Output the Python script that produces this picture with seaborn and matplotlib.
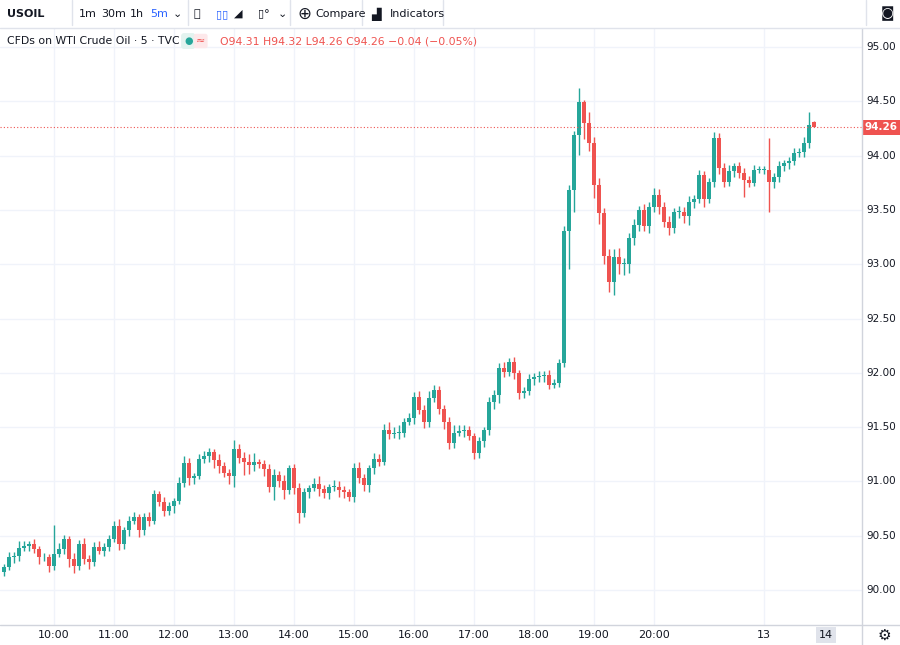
import numpy as np
import pandas as pd
import matplotlib.pyplot as plt
import seaborn as sns

# ---- data (5-min candles) ----
first_open = 90.17
closes = [
    90.21, 90.30, 90.31, 90.39, 90.41, 90.42, 90.38, 90.30, 90.30, 90.22, 90.33, 90.38,
    90.47, 90.29, 90.22, 90.42, 90.29, 90.26, 90.40, 90.36, 90.40, 90.47, 90.59, 90.42,
    90.55, 90.64, 90.67, 90.55, 90.67, 90.64, 90.88, 90.81, 90.73, 90.77, 90.82, 90.99,
    91.17, 91.03, 91.05, 91.21, 91.23, 91.27, 91.20, 91.14, 91.08, 91.05, 91.30, 91.22,
    91.18, 91.15, 91.18, 91.16, 91.11, 90.95, 91.06, 91.00, 90.92, 91.12, 90.94, 90.71,
    90.90, 90.94, 90.98, 90.93, 90.89, 90.95, 90.95, 90.92, 90.90, 90.86, 91.12, 91.03,
    90.97, 91.12, 91.21, 91.18, 91.47, 91.44, 91.45, 91.45, 91.55, 91.58, 91.78, 91.66,
    91.55, 91.77, 91.84, 91.67, 91.55, 91.35, 91.45, 91.46, 91.47, 91.42, 91.26, 91.37,
    91.47, 91.73, 91.80, 92.04, 92.01, 92.10, 92.00, 91.81, 91.83, 91.94, 91.96, 91.97,
    91.98, 91.89, 91.91, 92.09, 93.31, 93.68, 94.19, 94.49, 94.30, 94.12, 93.73, 93.47,
    93.08, 92.84, 93.07, 93.00, 93.00, 93.24, 93.36, 93.50, 93.35, 93.53, 93.64, 93.53,
    93.39, 93.33, 93.48, 93.48, 93.44, 93.57, 93.60, 93.82, 93.60, 93.76, 94.16, 93.89,
    93.76, 93.86, 93.90, 93.84, 93.78, 93.75, 93.87, 93.87, 93.87, 93.76, 93.80, 93.90,
    93.93, 93.95, 94.02, 94.03, 94.12, 94.28, 94.26,
]
last_open = 94.31
up_wick = [
    .03, .05, .04, .06, .04, .03, .05, .03, .04, .03, .27, .05,
    .04, .03, .05, .04, .06, .03, .04, .05, .03, .04, .05, .06,
    .03, .04, .05, .03, .04, .05, .04, .03, .05, .04, .03, .05,
    .06, .05, .03, .04, .05, .04, .03, .05, .04, .03, .08, .04,
    .05, .07, .08, .03, .04, .05, .05, .04, .06, .03, .04, .05,
    .04, .03, .05, .07, .04, .03, .06, .05, .04, .03, .05, .06,
    .04, .03, .05, .04, .06, .08, .05, .07, .03, .05, .04, .05,
    .04, .06, .05, .04, .03, .04, .07, .06, .05, .04, .03, .04,
    .03, .05, .04, .05, .06, .04, .05, .03, .04, .05, .04, .05,
    .04, .05, .03, .04, .04, .05, .04, .13, .02, .10, .05, .06,
    .05, .06, .07, .08, .06, .05, .06, .04, .05, .04, .06, .05,
    .04, .05, .04, .06, .05, .06, .04, .05, .04, .03, .06, .05,
    .04, .05, .03, .04, .05, .03, .04, .03, .03, .29, .04, .05,
    .03, .04, .05, .04, .05, .12, .01,
]
dn_wick = [
    .04, .03, .05, .04, .03, .05, .04, .06, .03, .05, .04, .03,
    .05, .08, .06, .04, .05, .07, .04, .03, .05, .04, .03, .05,
    .04, .05, .03, .06, .04, .05, .03, .04, .05, .04, .06, .03,
    .04, .06, .05, .03, .04, .05, .08, .06, .04, .07, .10, .05,
    .12, .08, .05, .04, .06, .05, .12, .05, .08, .04, .06, .09,
    .04, .05, .03, .06, .04, .05, .04, .06, .05, .04, .05, .04,
    .06, .07, .05, .04, .03, .05, .04, .06, .04, .03, .05, .04,
    .06, .05, .04, .05, .07, .05, .04, .03, .05, .04, .05, .04,
    .05, .04, .06, .08, .05, .04, .06, .05, .04, .03, .05, .04,
    .05, .04, .03, .04, .04, .35, .20, .18, .15, .08, .12, .10,
    .08, .10, .12, .09, .10, .08, .06, .05, .04, .06, .05, .07,
    .05, .06, .04, .05, .06, .08, .05, .04, .07, .04, .05, .06,
    .05, .04, .06, .05, .16, .04, .03, .03, .04, .28, .06, .04,
    .04, .05, .04, .03, .04, .05, .00,
]
time_ticks = [10, 22, 34, 46, 58, 70, 82, 94, 106, 118, 130, 152]
time_labels = ["10:00", "11:00", "12:00", "13:00", "14:00", "15:00", "16:00",
               "17:00", "18:00", "19:00", "20:00", "13"]
price_ticks = [90.0, 90.5, 91.0, 91.5, 92.0, 92.5, 93.0, 93.5, 94.0, 94.5, 95.0]

GREEN = "#26a69a"
RED = "#ef5350"
TXT = "#131722"

df = pd.DataFrame({"close": closes, "up": up_wick, "dn": dn_wick})
df["open"] = [first_open] + closes[:-1]
df.loc[df.index[-1], "open"] = last_open
df["top"] = df[["open", "close"]].max(axis=1)
df["bot"] = df[["open", "close"]].min(axis=1)
df["high"] = df["top"] + df["up"]
df["low"] = df["bot"] - df["dn"]
df["color"] = np.where(df["close"] >= df["open"], GREEN, RED)
df["i"] = np.arange(len(df))

sns.set_theme(style="white", font="DejaVu Sans")
fig = plt.figure(figsize=(9, 6.45), dpi=100)
ax = fig.add_axes([0, 20 / 645, 862 / 900, 597 / 645])

ax.vlines(df["i"], df["low"], df["high"], colors=df["color"], linewidth=1)
ax.bar(df["i"], np.maximum(df["top"] - df["bot"], 0.008), bottom=df["bot"],
       width=0.7, color=df["color"], linewidth=0)

last = closes[-1]
ax.axhline(last, color=RED, linestyle=(0, (1, 2)), linewidth=0.8)

ax.set_xlim(-0.8, 171.6)
ax.set_ylim(89.678, 95.175)
ax.set_xticks(time_ticks)
ax.set_yticks(price_ticks)
ax.grid(True, color="#f0f3fa", linewidth=1)
ax.set_axisbelow(True)
ax.tick_params(length=0, labelbottom=False, labelleft=False)
for s in ax.spines.values():
    s.set_visible(False)

# price scale labels on the right
for p in price_ticks:
    ax.text(1.022, (p - 89.678) / (95.175 - 89.678), f"{p:.2f}",
            transform=ax.transAxes, ha="center", va="center", fontsize=7.5, color=TXT)
ax.text(1.022, (last - 89.678) / (95.175 - 89.678), f"{last:.2f}", transform=ax.transAxes,
        ha="center", va="center", fontsize=7.5, color="white", fontweight="bold",
        bbox=dict(boxstyle="square,pad=0.25", fc=RED, ec="none"))
# time labels
for t, lab in zip(time_ticks, time_labels):
    fig.text((4 + 5 * t) / 900, 10 / 645, lab, ha="center", va="center", fontsize=8, color=TXT)
fig.text(826 / 900, 10 / 645, "14", ha="center", va="center", fontsize=8, color=TXT,
         bbox=dict(boxstyle="square,pad=0.3", fc="#e0e3eb", ec="none"))
fig.text(884 / 900, 10 / 645, "⚙", ha="center", va="center", fontsize=11, color=TXT)

# frame lines
fig.add_artist(plt.Line2D([862 / 900, 862 / 900], [0, 617 / 645], color="#d1d4dc", lw=1))
fig.add_artist(plt.Line2D([0, 1], [20 / 645, 20 / 645], color="#d1d4dc", lw=1))
fig.add_artist(plt.Line2D([0, 1], [617 / 645, 617 / 645], color="#e0e3eb", lw=1))
for xs in [72, 188, 290, 362, 443, 866]:
    fig.add_artist(plt.Line2D([xs / 900, xs / 900], [620 / 645, 1], color="#e0e3eb", lw=1))

# toolbar
ty = 1 - 14 / 645
fig.text(7 / 900, ty, "USOIL", fontsize=8, fontweight="bold", color=TXT, va="center")
for x, s, c in [(79, "1m", TXT), (101, "30m", TXT), (130, "1h", TXT), (150, "5m", "#2962ff"),
                (173, "⌄", TXT), (194, "⫲", TXT), (216, "▯▯", "#2962ff"), (234, "◢", TXT),
                (258, "▯°", TXT), (278, "⌄", TXT)]:
    fig.text(x / 900, ty, s, fontsize=8, color=c, va="center")
fig.text(297 / 900, ty, "⊕", fontsize=12, color=TXT, va="center")
fig.text(315 / 900, ty, "Compare", fontsize=8, color=TXT, va="center")
fig.text(371 / 900, ty, "▟", fontsize=9, color=TXT, va="center")
fig.text(390 / 900, ty, "Indicators", fontsize=8, color=TXT, va="center")
fig.text(888 / 900, ty, "◙", fontsize=10, color=TXT, va="center", ha="center")

# legend row
ly = 1 - 41 / 645
fig.text(7 / 900, ly, "CFDs on WTI Crude Oil · 5 · TVC", fontsize=7.8, color=TXT, va="center")
fig.text(184 / 900, ly, "●", fontsize=7, color=GREEN, va="center",
         bbox=dict(boxstyle="round,pad=0.3", fc="#e3f3ef", ec="none"))
fig.text(196 / 900, ly, "≈", fontsize=8, color=RED, va="center",
         bbox=dict(boxstyle="round,pad=0.2", fc="#fde8ea", ec="none"))
fig.text(220 / 900, ly, "O94.31 H94.32 L94.26 C94.26 −0.04 (−0.05%)", fontsize=7.8,
         color=RED, va="center")

fig.savefig("out.png", dpi=100)
